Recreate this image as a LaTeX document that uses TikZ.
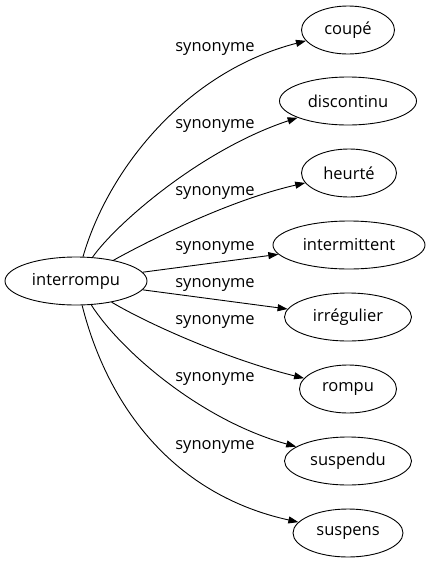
\documentclass[tikz,border=0pt]{standalone}
\usepackage{fontspec}
\setmainfont{Open Sans}
\usetikzlibrary{shapes.geometric,arrows.meta}
\tikzset{
  word/.style={draw, ellipse, inner sep=0pt, minimum height=48pt, line width=0.9pt, font=\fontsize{16.5}{20}\selectfont},
  lbl/.style={inner sep=0pt, font=\fontsize{16.5}{20}\selectfont},
  link/.style={line width=0.9pt, -{Triangle[length=10pt,width=7pt]}}
}
\begin{document}
\begin{tikzpicture}[x=1pt,y=-1pt]
\useasboundingbox (0,0) rectangle (429,563);
\node[word, minimum width=142pt] (i) at (76,281) {interrompu};
\node[word, minimum width=93pt] (c) at (348,30) {coupé};
\node[word, minimum width=137pt] (d) at (348,101) {discontinu};
\node[word, minimum width=95pt] (h) at (349,173) {heurté};
\node[word, minimum width=152pt] (m) at (349,245) {intermittent};
\node[word, minimum width=127pt] (g) at (348,317) {irrégulier};
\node[word, minimum width=97pt] (r) at (348,389) {rompu};
\node[word, minimum width=127pt] (s) at (348,461) {suspendu};
\node[word, minimum width=110pt] (p) at (348,533) {suspens};
\node[lbl] (l1) at (215,49) {synonyme};
\node[lbl] (l2) at (215,126) {synonyme};
\node[lbl] (l3) at (215,193) {synonyme};
\node[lbl] (l4) at (215,248) {synonyme};
\node[lbl] (l5) at (215,285) {synonyme};
\node[lbl] (l6) at (215,322) {synonyme};
\node[lbl] (l7) at (215,379) {synonyme};
\node[lbl] (l8) at (215,447) {synonyme};
\draw[link] (i) .. controls (108,170) and (185,72) .. (c);
\draw[link] (i) .. controls (115,225) and (200,150) .. (d);
\draw[link] (i) .. controls (150,240) and (230,200) .. (h);
\draw[link] (i) -- (m);
\draw[link] (i) -- (g);
\draw[link] (i) .. controls (150,325) and (230,360) .. (r);
\draw[link] (i) .. controls (120,350) and (200,420) .. (s);
\draw[link] (i) .. controls (108,408) and (175,495) .. (p);
\end{tikzpicture}
\end{document}
